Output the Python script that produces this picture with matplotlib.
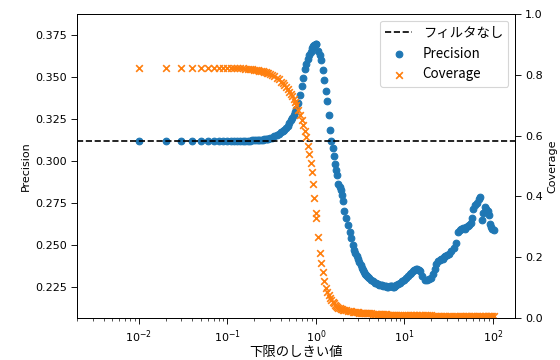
import matplotlib.pyplot as plt

jp_family = ['Noto Sans CJK JP', 'DejaVu Sans']

# Lower-bound thresholds
thresholds = [
    0.01, 0.02, 0.03, 0.04, 0.05, 0.06, 0.07, 0.08, 0.09, 0.10,
    0.11, 0.12, 0.13, 0.14, 0.15, 0.16, 0.17, 0.18, 0.19, 0.20,
    0.21, 0.22, 0.23, 0.24, 0.25, 0.26, 0.27, 0.28, 0.29, 0.30,
    0.32, 0.34, 0.36, 0.38, 0.40, 0.42, 0.44, 0.46, 0.48, 0.50,
    0.52, 0.54, 0.56, 0.58, 0.60,
    0.63, 0.66, 0.69, 0.72, 0.75, 0.78, 0.81, 0.84, 0.87, 0.90,
    0.93, 0.96, 0.99,
    1.00, 1.05, 1.10, 1.15, 1.20, 1.25, 1.30, 1.35, 1.40, 1.45,
    1.50, 1.55, 1.60, 1.65, 1.70, 1.75, 1.80, 1.85, 1.90, 1.95, 2.00,
    2.1, 2.2, 2.3, 2.4, 2.5, 2.6, 2.7, 2.8, 2.9, 3.0,
    3.1, 3.2, 3.3, 3.4, 3.5, 3.6, 3.7, 3.8, 3.9, 4.0,
    4.2, 4.4, 4.6, 4.8, 5.0, 5.2, 5.4, 5.6, 5.8, 6.0,
    6.2, 6.4, 6.6, 6.8, 7.0, 7.2, 7.4, 7.6, 7.8, 8.0,
    8.5, 9.0, 9.5, 10.0, 10.5, 11.0, 11.5, 12.0, 12.5, 13.0,
    13.5, 14.0, 14.5, 15.0,
    16, 17, 18, 19, 20, 21, 22, 23, 24, 25, 26, 27, 28, 29, 30,
    32, 34, 36, 38, 40, 42, 44, 46, 48, 50, 52, 54, 56, 58, 60,
    63, 66, 69, 72, 75, 78, 81, 84, 87, 90, 93, 96, 99, 102,
]

precision = [
    0.3119, 0.3119, 0.3119, 0.3119, 0.3119, 0.3119, 0.3119, 0.3119, 0.3120, 0.3120,
    0.3120, 0.3120, 0.3120, 0.3121, 0.3121, 0.3121, 0.3122, 0.3122, 0.3123, 0.3123,
    0.3124, 0.3125, 0.3126, 0.3127, 0.3128, 0.3129, 0.3130, 0.3131, 0.3133, 0.3135,
    0.3139, 0.3147, 0.3155, 0.3163, 0.3170, 0.3177, 0.3184, 0.3196, 0.3210, 0.3226,
    0.3244, 0.3258, 0.3274, 0.3292, 0.3310,
    0.3345, 0.3395, 0.3445, 0.3495, 0.3545, 0.3575, 0.3605, 0.3630, 0.3652, 0.3672,
    0.3684, 0.3693, 0.3697,
    0.3695, 0.3655, 0.3630, 0.3600, 0.3540, 0.3485, 0.3415, 0.3355, 0.3275, 0.3185,
    0.3120, 0.3075, 0.3030, 0.2985, 0.2945, 0.2915, 0.2865, 0.2845, 0.2825, 0.2800, 0.2765,
    0.2705, 0.2660, 0.2620, 0.2578, 0.2540, 0.2502, 0.2472, 0.2450, 0.2435, 0.2418,
    0.2400, 0.2381, 0.2365, 0.2350, 0.2337, 0.2330, 0.2322, 0.2315, 0.2308, 0.2302,
    0.2292, 0.2284, 0.2277, 0.2272, 0.2268, 0.2264, 0.2262, 0.2260, 0.2257, 0.2255,
    0.2258, 0.2252, 0.2250, 0.2254, 0.2258, 0.2254, 0.2251, 0.2253, 0.2258, 0.2262,
    0.2266, 0.2275, 0.2285, 0.2294, 0.2305, 0.2316, 0.2325, 0.2335, 0.2345, 0.2351,
    0.2356, 0.2358, 0.2354, 0.2343,
    0.2318, 0.2295, 0.2290, 0.2296, 0.2305, 0.2330, 0.2360, 0.2385, 0.2405, 0.2412,
    0.2418, 0.2420, 0.2428, 0.2433, 0.2438,
    0.2448, 0.2462, 0.2480, 0.2515, 0.2575, 0.2592, 0.2598, 0.2602, 0.2596, 0.2605,
    0.2612, 0.2622, 0.2632, 0.2660, 0.2715,
    0.2738, 0.2752, 0.2772, 0.2785, 0.2650, 0.2690, 0.2725, 0.2715, 0.2705, 0.2680,
    0.2625, 0.2610, 0.2598, 0.2592,
]

coverage = [
    0.824, 0.824, 0.824, 0.824, 0.823, 0.823, 0.823, 0.823, 0.823, 0.823,
    0.822, 0.822, 0.822, 0.821, 0.821, 0.820, 0.820, 0.819, 0.818, 0.817,
    0.816, 0.815, 0.814, 0.813, 0.812, 0.810, 0.809, 0.807, 0.805, 0.803,
    0.799, 0.795, 0.790, 0.785, 0.778, 0.772, 0.765, 0.759, 0.752, 0.745,
    0.737, 0.729, 0.720, 0.710, 0.700,
    0.685, 0.668, 0.652, 0.635, 0.615, 0.595, 0.565, 0.540, 0.510, 0.480,
    0.440, 0.395, 0.345,
    0.330, 0.265, 0.215, 0.180, 0.150, 0.122, 0.100, 0.085, 0.075, 0.067,
    0.060, 0.054, 0.048, 0.044, 0.040, 0.037, 0.034, 0.032, 0.030, 0.028, 0.027,
    0.026, 0.025, 0.024, 0.023, 0.022, 0.021, 0.020, 0.020, 0.019, 0.019,
    0.018, 0.018, 0.017, 0.017, 0.017, 0.016, 0.016, 0.016, 0.015, 0.015,
    0.015, 0.014, 0.014, 0.014, 0.013, 0.013, 0.013, 0.012, 0.012, 0.012,
    0.012, 0.011, 0.011, 0.011, 0.011, 0.011, 0.010, 0.010, 0.010, 0.010,
    0.010, 0.010, 0.010, 0.009, 0.009, 0.009, 0.009, 0.009, 0.009, 0.009,
    0.009, 0.009, 0.009, 0.009,
    0.009, 0.009, 0.009, 0.009, 0.009, 0.008, 0.008, 0.008, 0.008, 0.008,
    0.008, 0.008, 0.008, 0.008, 0.008,
    0.008, 0.008, 0.008, 0.008, 0.008, 0.008, 0.008, 0.008, 0.008, 0.008,
    0.007, 0.007, 0.007, 0.007, 0.007,
    0.007, 0.007, 0.007, 0.007, 0.007, 0.007, 0.007, 0.007, 0.007, 0.007,
    0.007, 0.007, 0.007, 0.007,
]

# Precision without any threshold filter
baseline = 0.312

fig, ax1 = plt.subplots(figsize=(7, 4.5), dpi=80)
fig.subplots_adjust(left=0.1375, right=0.9196, bottom=0.1167, top=0.961)
ax2 = ax1.twinx()

line = ax1.axhline(baseline, color='k', ls='--', label='フィルタなし')
sc_p = ax1.scatter(thresholds, precision, color='C0', label='Precision')
sc_c = ax2.scatter(thresholds, coverage, color='C1', marker='x', label='Coverage')

ax1.set_xscale('log')
ax1.set_xlim(10 ** -2.70, 10 ** 2.25)
ax1.set_ylim(0.2066, 0.3875)
ax1.set_yticks([0.225, 0.250, 0.275, 0.300, 0.325, 0.350, 0.375])
ax2.set_ylim(0, 1.0)

for ax in (ax1, ax2):
    ax.tick_params(which='major', length=5.5)
    ax.tick_params(which='minor', length=2.8)

ax1.set_xlabel('下限のしきい値', family=jp_family, fontsize=12, labelpad=0.5)
ax1.set_ylabel('Precision')
ax2.set_ylabel('Coverage')

ax2.legend(handles=[line, sc_p, sc_c], loc='upper right',
           prop={'family': jp_family, 'size': 12})

fig.savefig('out.png', dpi=80)
